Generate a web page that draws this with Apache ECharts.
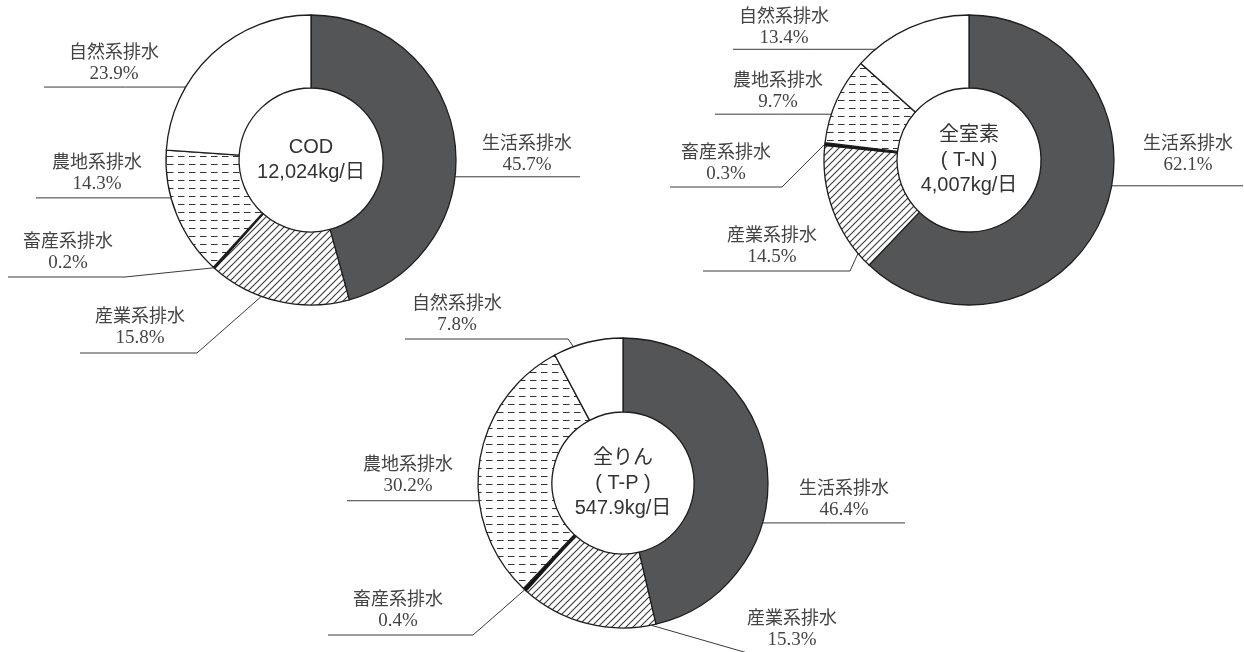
<!DOCTYPE html>
<html lang="ja">
<head>
<meta charset="utf-8">
<title>汚濁負荷量の発生源別内訳</title>
<script src="https://cdn.jsdelivr.net/npm/echarts@6/dist/echarts.min.js"></script>
<style>
  html, body { margin: 0; padding: 0; background: #fff; }
  #chart { width: 1244px; height: 652px; }
</style>
</head>
<body>
<div id="chart"></div>
<script>
// Source categories, in clockwise order from 12 o'clock
const categories = ['生活系排水', '産業系排水', '畜産系排水', '農地系排水', '自然系排水'];

// Share of each load by source (%)
const codShare = [45.7, 15.8, 0.2, 14.3, 23.9];
const tnShare  = [62.1, 14.5, 0.3, 9.7, 13.4];
const tpShare  = [46.4, 15.3, 0.4, 30.2, 7.8];

// Text shown in the hole of each ring
const codTitle = ['COD', '12,024kg/日'];
const tnTitle  = ['全室素', '( T-N )', '4,007kg/日'];
const tpTitle  = ['全りん', '( T-P )', '547.9kg/日'];

// ---- fills -------------------------------------------------------------
function hatchFill() {
  const c = document.createElement('canvas');
  c.width = c.height = 7;
  const g = c.getContext('2d');
  g.fillStyle = '#fff';
  g.fillRect(0, 0, 7, 7);
  g.strokeStyle = '#3a3a3a';
  g.lineWidth = 1.1;
  g.beginPath();
  g.moveTo(-1, 8); g.lineTo(8, -1);
  g.moveTo(-1, 1); g.lineTo(1, -1);
  g.moveTo(6, 8); g.lineTo(8, 6);
  g.stroke();
  return { image: c, repeat: 'repeat' };
}
function dashFill() {
  const c = document.createElement('canvas');
  c.width = 11; c.height = 8;
  const g = c.getContext('2d');
  g.fillStyle = '#fff';
  g.fillRect(0, 0, 11, 8);
  g.fillStyle = '#333';
  g.fillRect(2, 4, 6.5, 1);
  return { image: c, repeat: 'repeat' };
}
const fills = ['#545557', hatchFill(), '#111111', dashFill(), '#ffffff'];

// ---- ring geometry and label placement ---------------------------------
// t: position across the slice (0..1), r: radius of the leader's start,
// elbow: optional bend, end: x where the underline stops, text: label centre
const rings = [
  {
    share: codShare, title: codTitle, center: [311, 160], radius: [72, 145],
    labels: [
      { t: 0.593, r: 126, end: 580, text: [527, 153.5] },
      { t: 0.534, r: 126, elbow: [197, 353], end: 80, text: [140, 326.5] },
      { t: 0.5, r: 145, elbow: [125, 277], end: 8, text: [68, 251.5] },
      { t: 0.588, r: 127, end: 36, text: [97, 172.5] },
      { t: 0.362, r: 127, end: 44, text: [114, 62.5] }
    ]
  },
  {
    share: tnShare, title: tnTitle, center: [969, 160], radius: [72, 145],
    labels: [
      { t: 0.455, r: 127, end: 1243, text: [1188, 153.5] },
      { t: 0.207, r: 125, elbow: [850, 271], end: 703, text: [772, 246] },
      { t: 0.5, r: 145, elbow: [782, 187], end: 670, text: [726, 162.5] },
      { t: 0.4, r: 129, end: 715, text: [778, 91] },
      { t: 0.316, r: 132, end: 733, text: [784, 26.5] }
    ]
  },
  {
    share: tpShare, title: tpTitle, center: [623, 483], radius: [71, 145],
    labels: [
      { t: 0.644, r: 133, end: 905, text: [844, 499] },
      { t: 0.17, r: 137, elbow: [751, 654], end: 900, text: [792, 628.5] },
      { t: 0.5, r: 145, elbow: [473, 635], end: 328, text: [398, 610] },
      { t: 0.365, r: 145, end: 347, text: [408, 475] },
      { t: 0.375, r: 126, elbow: [568, 339], end: 405, text: [457, 314] }
    ]
  }
];

// point inside slice i, measured clockwise from 12 o'clock
function slicePoint(share, center, i, t, r) {
  const sum = share.reduce((a, b) => a + b, 0);
  let before = 0;
  for (let k = 0; k < i; k++) before += share[k];
  const a = (before + t * share[i]) / sum * Math.PI * 2;
  return [center[0] + r * Math.sin(a), center[1] - r * Math.cos(a)];
}

function layoutFor(ring) {
  return function (params) {
    const L = ring.labels[params.dataIndex];
    const p0 = slicePoint(ring.share, ring.center, params.dataIndex, L.t, L.r);
    let pts;
    if (L.elbow) {
      pts = [p0, L.elbow.slice(), [L.end, L.elbow[1]]];
    } else {
      pts = [p0, [(p0[0] + L.end) / 2, p0[1]], [L.end, p0[1]]];
    }
    return {
      x: L.text[0], y: L.text[1],
      align: 'center', verticalAlign: 'middle',
      labelLinePoints: pts
    };
  };
}

const nameFont = '"Noto Sans CJK JP", serif';
const valueFont = '"Liberation Serif", serif';
const centerFont = '"Liberation Sans", "Noto Sans CJK JP", sans-serif';
const labelColor = '#444';

const series = rings.map(ring => ({
  type: 'pie',
  center: ring.center,
  radius: ring.radius,
  startAngle: 90,
  clockwise: true,
  silent: true,
  animation: false,
  avoidLabelOverlap: false,
  itemStyle: { borderColor: '#1e1e1e', borderWidth: 1.3 },
  label: {
    show: true,
    position: 'outside',
    formatter: p => '{n|' + p.name + '}\n{v|' + p.value.toFixed(1) + '%}',
    color: labelColor,
    align: 'center',
    rich: {
      n: { fontFamily: nameFont, fontSize: 18, lineHeight: 23, color: labelColor, align: 'center' },
      v: { fontFamily: valueFont, fontSize: 19, lineHeight: 23, color: labelColor, align: 'center' }
    }
  },
  labelLine: { show: true, smooth: false, lineStyle: { color: '#3a3a3a', width: 1 } },
  labelLayout: layoutFor(ring),
  data: categories.map((name, i) => ({
    name: name,
    value: ring.share[i],
    itemStyle: { color: fills[i] }
  }))
}));

const graphic = rings.map(ring => ({
  type: 'text',
  x: ring.center[0],
  y: ring.center[1],
  z: 10,
  style: {
    text: ring.title.join('\n'),
    align: 'center',
    verticalAlign: 'middle',
    fontFamily: centerFont,
    fontSize: 20,
    lineHeight: 25,
    fill: '#333'
  }
}));

const chart = echarts.init(document.getElementById('chart'), null, { renderer: 'canvas' });
chart.setOption({
  backgroundColor: '#ffffff',
  animation: false,
  series: series,
  graphic: graphic
});
</script>
</body>
</html>
